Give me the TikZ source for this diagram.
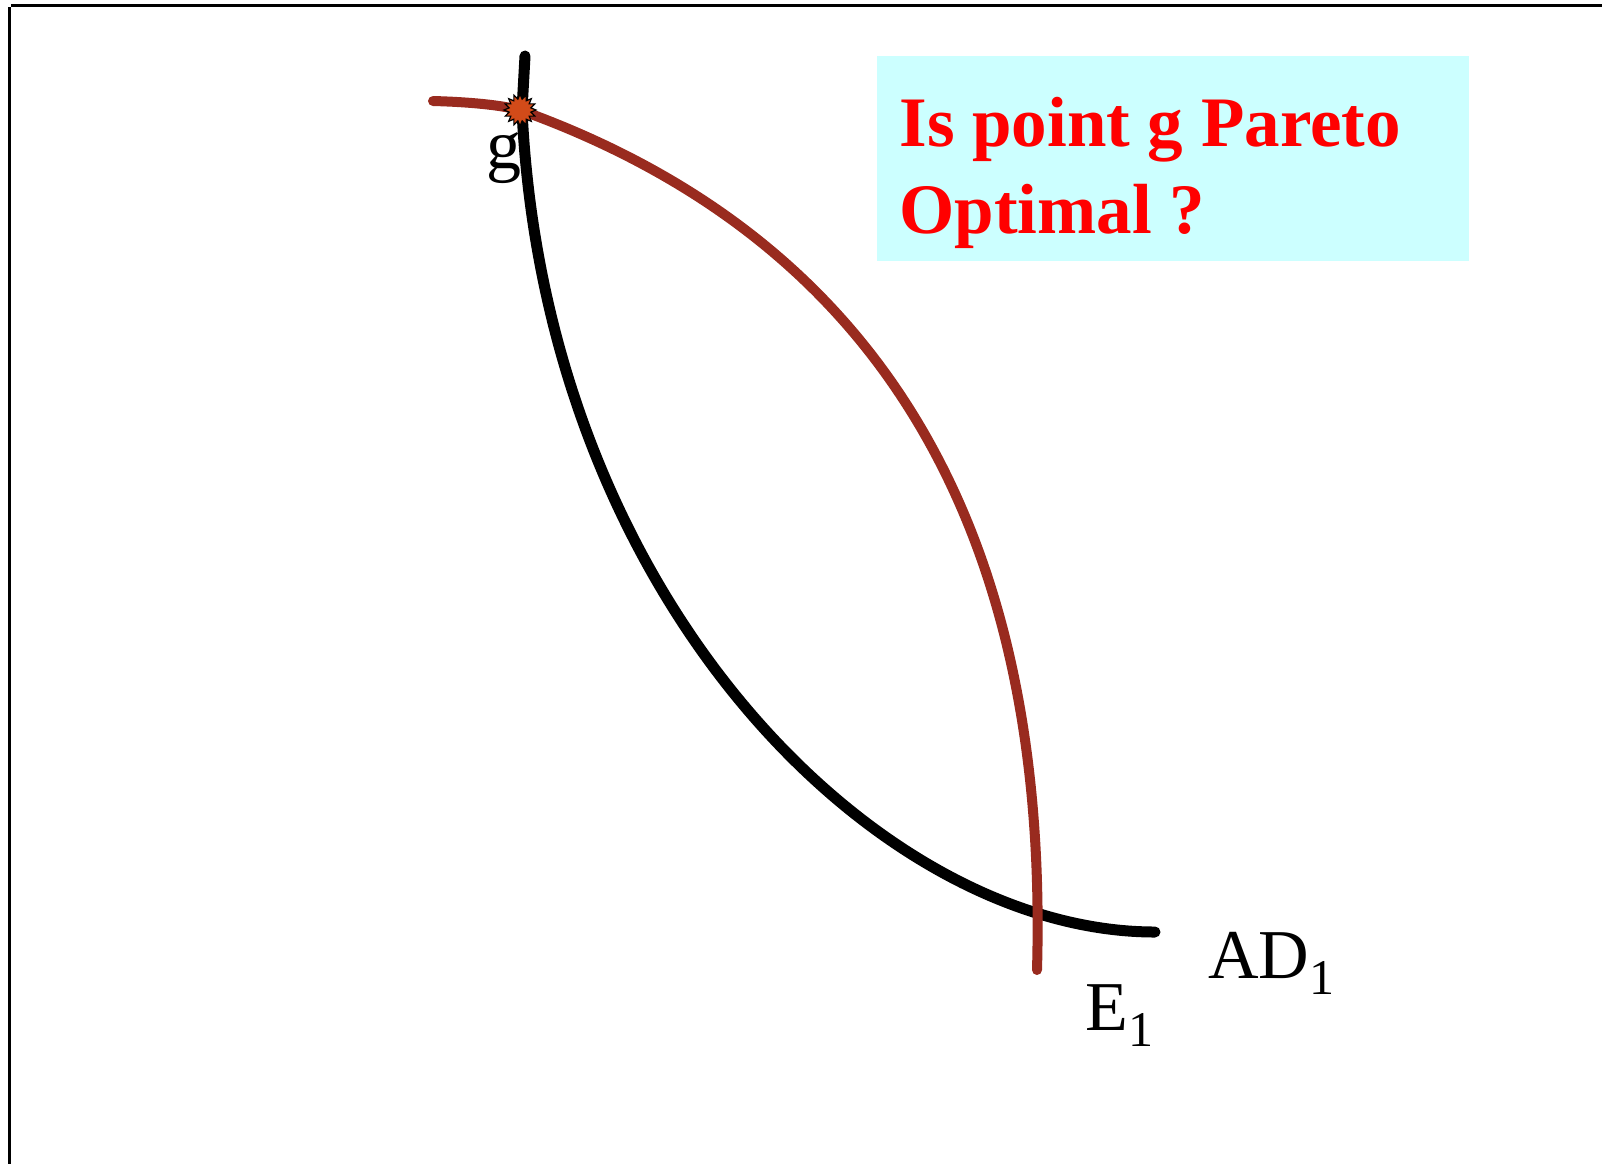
\documentclass[tikz,border=0pt]{standalone}
\usepackage{fontspec}
\setmainfont{Liberation Serif}
\usetikzlibrary{shapes.geometric}
\definecolor{curvered}{RGB}{153,43,31}
\definecolor{starfill}{RGB}{210,75,25}
\definecolor{boxcyan}{RGB}{204,255,255}
\definecolor{titlered}{RGB}{255,0,0}
\newcommand{\mysub}[1]{\raisebox{-8pt}{\fontsize{25}{30}\selectfont #1}}
\tikzset{
  axisline/.style={line width=1.5pt, black},
  adcurve/.style={line width=5.5pt, black, line cap=round},
  ecurve/.style={line width=5pt, curvered, line cap=round},
  gstar/.style={star, star points=16, star point ratio=1.45, draw=black, line width=0.6pt, fill=starfill, minimum size=16pt, inner sep=0pt},
  titletext/.style={anchor=base west, inner sep=0pt, text=titlered, font=\fontsize{35.5}{43.5}\selectfont\bfseries},
  lbl/.style={anchor=base west, inner sep=0pt, font=\fontsize{35}{42}\selectfont},
}
\begin{document}
\begin{tikzpicture}[x=0.5pt, y=-0.5pt]
\useasboundingbox (0,0) rectangle (1602,1164);
% axes
\coordinate (ytop) at (9,7);
\coordinate (ybot) at (9,1164);
\coordinate (xl) at (11,5);
\coordinate (xr) at (1602,5);
\draw[axisline] (ytop) -- (ybot);
\draw[axisline] (xl) -- (xr);
% title box
\fill[boxcyan] (877,56) rectangle (1469,261);
\node[titletext] (t1) at (899,146) {Is point g Pareto};
\node[titletext] (t2) at (899,233) {Optimal ?};
% curves
\coordinate (adtop) at (525,56);
\coordinate (g) at (520,110);
\coordinate (adend) at (1155,932);
\coordinate (estart) at (433,101);
\coordinate (eend) at (1037,970);
\draw[adcurve] (adtop) -- (522,110) .. controls (545,600) and (878,932) .. (adend);
\draw[ecurve] (estart) .. controls (470,102) and (500,105) .. (g)
   .. controls (915,252) and (1048,575) .. (eend);
\node[gstar] (gpt) at (g) {};
% labels
\node[lbl] (glbl) at (486,168) {g};
\node[lbl] (e1) at (1085,1030) {E\mysub{1}};
\node[lbl] (ad1) at (1208,978) {AD\mysub{1}};
\end{tikzpicture}
\end{document}
